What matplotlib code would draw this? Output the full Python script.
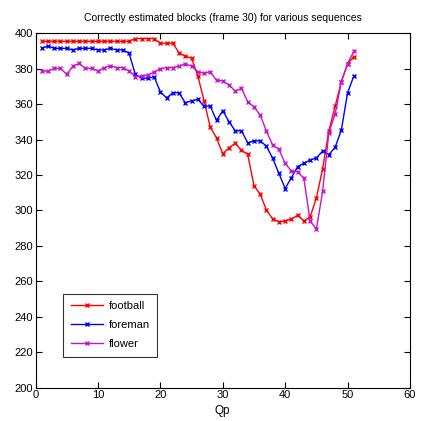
import matplotlib
matplotlib.use("Agg")
import matplotlib.pyplot as plt

plt.rcParams['font.family'] = ['Liberation Sans', 'DejaVu Sans']

qp = list(range(1, 52))

football = [395.5, 395.5, 395.5, 395.5, 395.5, 395.5, 395.5, 395.5, 395.5, 395.5,
            395.5, 395.5, 395.5, 395.5, 395.5, 397, 397, 397, 397, 394.4,
            394.4, 394.4, 389, 387, 386, 376, 362, 347, 341, 332,
            335.4, 337.9, 334, 331.7, 314, 309.2, 300.2, 295.3, 293.6, 294.1,
            295.2, 297.3, 294.1, 296.4, 307, 323.5, 345, 358.7, 372.7, 382.7,
            386.8]

foreman = [391.5, 392.8, 391.5, 391.5, 391.5, 390.6, 391.5, 391.5, 391.5, 390.6,
           390.6, 391.5, 390.6, 390.6, 388.7, 376.8, 374.6, 374.6, 375.5, 367,
           363.5, 366.4, 366.4, 360.8, 361.9, 362.7, 358.9, 358.9, 350.8, 356.3,
           350.1, 345, 345, 338.2, 339.3, 339.3, 336.3, 329.4, 320.9, 312.4,
           318.6, 324.8, 326.7, 328.4, 329.7, 333.5, 331.6, 335.6, 345.4, 366.4,
           375.9]

flower = [378.7, 378.7, 380.2, 380.2, 376.8, 381.5, 383, 380.2, 380.2, 378.7,
          380.6, 381.7, 380.6, 380.6, 378.7, 375.5, 376, 376.4, 378.2, 380,
          380.6, 380.6, 381.5, 382.7, 381.5, 378.3, 377.4, 378.3, 373.4, 373.2,
          370.8, 367.4, 368.9, 361.4, 358.5, 353.8, 344.8, 336.9, 334.5, 326.6,
          322.3, 321.8, 318.1, 294, 289.5, 310.8, 344, 354.3, 372.7, 382.9,
          389.8]

series = [("football", football, "#ff0000"),
          ("foreman", foreman, "#0000ff"),
          ("flower", flower, "#cc11cc")]

fig = plt.figure(figsize=(4.22, 4.21), dpi=100)
ax = fig.add_axes([35.5 / 422, 1 - 387.7 / 421, (410 - 35.5) / 422, (387.7 - 33.3) / 421])

for name, vals, col in series:
    ax.plot(qp, vals, color=col, lw=1.0, marker='x', ms=3.5, mew=1.0, label=name)

ax.set_xlim(0, 60)
ax.set_ylim(200, 400)
ax.set_xticks(range(0, 61, 10))
ax.set_yticks(range(200, 401, 20))
ax.tick_params(direction='in', length=4, width=0.8, top=True, right=True,
               labelsize=8, pad=2)
for s in ax.spines.values():
    s.set_linewidth(0.8)

ax.set_xlabel("Qp", fontsize=8.5, labelpad=3)
ax.set_title("Correctly estimated blocks (frame 30) for various sequences",
             fontsize=7.5, pad=9)

leg = ax.legend(loc='lower left', bbox_to_anchor=(0.073, 0.087), borderaxespad=0,
                fontsize=8, frameon=True, fancybox=False, edgecolor='black',
                handlelength=2.9, borderpad=0.7, labelspacing=0.8,
                handletextpad=0.5)
leg.get_frame().set_linewidth(0.8)

fig.savefig("out.png", dpi=100)
